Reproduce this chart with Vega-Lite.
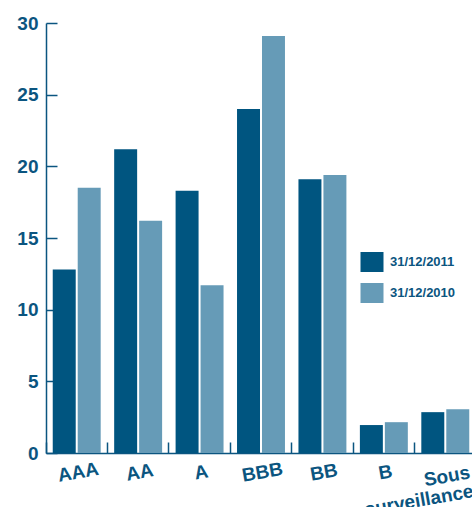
{
  "$schema": "https://vega.github.io/schema/vega-lite/v6.json",
  "autosize": {"type": "none"},
  "padding": {"left": 46, "top": 23, "right": 0, "bottom": 54},
  "width": 430,
  "height": 430,
  "background": "white",
  "data": {
    "values": [
      {"rating": "AAA", "date": "31/12/2011", "value": 12.8},
      {"rating": "AAA", "date": "31/12/2010", "value": 18.5},
      {"rating": "AA", "date": "31/12/2011", "value": 21.2},
      {"rating": "AA", "date": "31/12/2010", "value": 16.2},
      {"rating": "A", "date": "31/12/2011", "value": 18.3},
      {"rating": "A", "date": "31/12/2010", "value": 11.7},
      {"rating": "BBB", "date": "31/12/2011", "value": 24.0},
      {"rating": "BBB", "date": "31/12/2010", "value": 29.1},
      {"rating": "BB", "date": "31/12/2011", "value": 19.1},
      {"rating": "BB", "date": "31/12/2010", "value": 19.4},
      {"rating": "B", "date": "31/12/2011", "value": 1.95},
      {"rating": "B", "date": "31/12/2010", "value": 2.15},
      {"rating": "Sous surveillance", "date": "31/12/2011", "value": 2.85},
      {"rating": "Sous surveillance", "date": "31/12/2010", "value": 3.05}
    ]
  },
  "mark": {"type": "bar"},
  "encoding": {
    "x": {
      "field": "rating",
      "type": "nominal",
      "sort": null,
      "scale": {"paddingInner": 0, "paddingOuter": 0},
      "axis": {
        "title": null,
        "bandPosition": 0,
        "labelAngle": -10,
        "labelAlign": {"condition": {"test": "datum.value == 'Sous surveillance'", "value": "right"}, "value": "center"},
        "labelOffset": {"condition": {"test": "datum.value == 'Sous surveillance'", "value": 23}, "value": 0},
        "labelBaseline": "top",
        "labelExpr": "datum.value == 'Sous surveillance' ? ['Sous', 'surveillance'] : datum.value",
        "labelFont": "Liberation Sans",
        "labelFontSize": 19,
        "labelFontWeight": "bold",
        "labelColor": "#0b5580",
        "labelLineHeight": 19,
        "labelPadding": 21,
        "tickSize": -11,
        "tickColor": "#0b5580",
        "tickWidth": 1.5,
        "domainColor": "#0b5580",
        "domainWidth": 1.5,
        "labelOverlap": false,
        "labelBound": false
      }
    },
    "xOffset": {
      "field": "date",
      "type": "nominal",
      "sort": ["31/12/2011", "31/12/2010"],
      "scale": {"paddingInner": 0.08, "paddingOuter": 0.27}
    },
    "y": {
      "field": "value",
      "type": "quantitative",
      "scale": {"domain": [0, 30], "nice": false},
      "axis": {
        "title": null,
        "values": [0, 5, 10, 15, 20, 25, 30],
        "grid": false,
        "labelFont": "Liberation Sans",
        "labelFontSize": 19,
        "labelFontWeight": "bold",
        "labelColor": "#0b5580",
        "labelPadding": 19,
        "tickSize": -11,
        "tickColor": "#0b5580",
        "tickWidth": 1.5,
        "domainColor": "#0b5580",
        "domainWidth": 1.5
      }
    },
    "color": {
      "field": "date",
      "type": "nominal",
      "sort": ["31/12/2011", "31/12/2010"],
      "scale": {"range": ["#005580", "#669bb7"]},
      "legend": {
        "title": null,
        "orient": "none",
        "legendX": 316,
        "legendY": 229,
        "symbolType": "M-1.15,-1H1.15V1H-1.15Z",
        "symbolSize": 400,
        "symbolStrokeWidth": 0,
        "symbolOpacity": 1,
        "labelFont": "Liberation Sans",
        "labelFontSize": 13,
        "labelFontWeight": "bold",
        "labelColor": "#0b5580",
        "labelOffset": 8,
        "rowPadding": 11,
        "padding": 0
      }
    }
  },
  "config": {
    "view": {"stroke": null}
  }
}
